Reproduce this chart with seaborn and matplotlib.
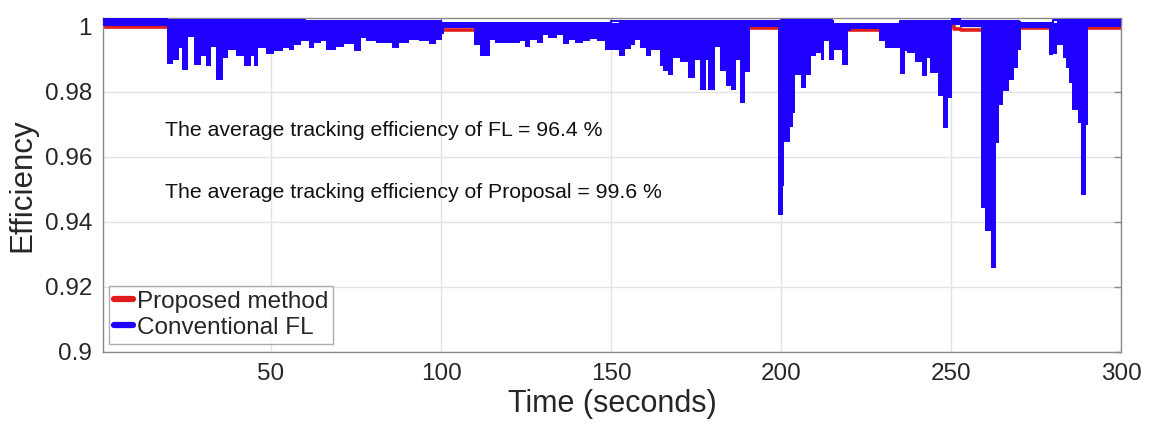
"""Tracking efficiency: proposed method vs conventional FL."""

import matplotlib
import matplotlib.pyplot as plt
import numpy as np
import pandas as pd
import seaborn as sns

matplotlib.use("Agg")

# Conventional FL: lower envelope of the (fast oscillating) efficiency,
# each value holds from its start time to the next one.
fl_t = [0.5, 19.5, 21.1, 22.8, 23.9, 25.7, 27.3, 29.3, 30.9, 32.4,
        33.9, 35.8, 37.3, 39.7, 42.2, 44.1, 45.0, 46.1, 48.5, 51.0,
        53.4, 55.4, 56.9, 58.8, 61.3, 62.7, 64.7, 66.1, 69.0, 71.5,
        74.4, 76.4, 77.8, 80.8, 85.7, 87.6, 90.6, 93.5, 96.4, 98.4,
        100.4, 101.0, 109.7, 111.6, 114.5, 116.0, 118.9, 123.3, 124.8, 126.2,
        128.2, 130.1, 131.6, 134.0, 136.0, 137.5, 139.4, 141.9, 143.8, 145.8,
        148.2, 152.2, 154.1, 156.0, 157.0, 158.4, 160.4, 161.9, 164.3, 165.3,
        166.8, 168.2, 170.2, 172.6, 174.6, 176.1, 178.0, 178.5, 180.5, 182.0,
        183.9, 185.4, 186.9, 187.9, 189.3, 190.8, 199.1, 200.5, 201.0, 202.5,
        203.5, 204.2, 205.9, 207.3, 208.8, 210.2, 211.7, 212.7, 214.1, 215.5,
        218.0, 219.8, 220.7, 228.7, 230.7, 235.0, 236.5, 237.0, 239.4, 241.4,
        242.8, 243.8, 246.3, 247.7, 249.2, 250.4, 252.5, 258.8, 260.1, 261.7,
        263.2, 264.0, 265.2, 266.9, 268.6, 269.6, 270.6, 278.9, 279.9, 281.3,
        282.8, 283.8, 284.8, 285.7, 287.2, 288.2, 289.6, 290.4, 300.0]
fl_low = [1.0003, 0.9885, 0.9898, 0.9934, 0.9868, 0.9967, 0.9883, 0.9909, 0.9878, 0.9939,
          0.9837, 0.9903, 0.9929, 0.9909, 0.9878, 0.9909, 0.9878, 0.9934, 0.9916, 0.9926,
          0.9934, 0.9929, 0.9944, 0.9955, 0.9934, 0.9949, 0.9957, 0.9929, 0.9939, 0.9946,
          0.9926, 0.9965, 0.9957, 0.9949, 0.9936, 0.9949, 0.9960, 0.9955, 0.9946, 0.9960,
          0.9977, 0.9996, 0.9944, 0.9909, 0.9960, 0.9951, 0.9949, 0.9957, 0.9939, 0.9960,
          0.9951, 0.9975, 0.9965, 0.9975, 0.9947, 0.9960, 0.9951, 0.9957, 0.9962, 0.9957,
          0.9929, 0.9911, 0.9931, 0.9944, 0.9960, 0.9934, 0.9909, 0.9929, 0.9878, 0.9863,
          0.9852, 0.9903, 0.9893, 0.9842, 0.9898, 0.9804, 0.9898, 0.9805, 0.9939, 0.9863,
          0.9817, 0.9805, 0.9898, 0.9766, 0.9860, 0.9999, 0.9422, 0.9509, 0.9647, 0.9693,
          0.9734, 0.9852, 0.9811, 0.9852, 0.9909, 0.9919, 0.9898, 0.9955, 0.9898, 0.9929,
          0.9883, 0.9986, 0.9994, 0.9955, 0.9934, 0.9854, 0.9924, 0.9919, 0.9893, 0.9850,
          0.9904, 0.9858, 0.9786, 0.9688, 0.9781, 1.0005, 0.9999, 0.9443, 0.9372, 0.9258,
          0.9643, 0.9760, 0.9801, 0.9837, 0.9873, 0.9929, 0.9996, 0.9914, 0.9916, 0.9945,
          0.9904, 0.9873, 0.9827, 0.9745, 0.9704, 0.9483, 0.9698, 1.0000, 1.0000]

# Conventional FL: upper envelope
fl_top_t = [0.5, 19.5, 60.0, 100.0, 110.0, 150.0, 200.0, 215.0, 235.0, 250.4,
            252.5, 270.0, 280.0, 300.0]
fl_top = [1.0025, 1.0022, 1.0017, 1.0011, 1.0012, 1.0017, 1.0022, 1.0009, 1.0018, 1.0028,
          1.0017, 1.0012, 1.0022, 1.0022]

# Proposed method
prop_t = [0.5, 60.0, 150.0, 205.0, 240.0, 251.0, 253.0, 262.0, 285.0, 300.0]
prop_eff = [0.9999, 0.9989, 0.9995, 0.9989, 1.0001, 0.9994, 0.9991, 0.9996, 0.9996, 0.9996]

avg_fl = 96.4
avg_prop = 99.6

BLUE = "#1f00ff"
RED = "#e01b1b"

sns.set_style("white")
plt.rcParams["font.family"] = ["Liberation Sans", "DejaVu Sans"]

fig = plt.figure(figsize=(11.51, 4.36), dpi=100)
ax = fig.add_axes([0.0895, 0.193, 0.8845, 0.765])

prop_df = pd.DataFrame({"Time": prop_t, "Efficiency": prop_eff})
sns.lineplot(data=prop_df, x="Time", y="Efficiency", ax=ax, color=RED,
             linewidth=2.6, drawstyle="steps-post", label="Proposed method", zorder=2)

# upper edge looked up on the same step grid as the lower envelope
fl_t_arr = np.array(fl_t)
idx = np.searchsorted(fl_top_t, fl_t_arr, side="right") - 1
fl_high = np.array(fl_top)[np.clip(idx, 0, len(fl_top) - 1)]
ax.fill_between(fl_t_arr, fl_low, fl_high, step="post", color=BLUE, linewidth=0, zorder=3)

top_df = pd.DataFrame({"Time": fl_top_t, "Efficiency": fl_top})
sns.lineplot(data=top_df, x="Time", y="Efficiency", ax=ax, color=BLUE,
             linewidth=1.5, drawstyle="steps-post", label="Conventional FL", zorder=3)

ax.text(18.9, 0.968, f"The average tracking efficiency of FL = {avg_fl} %",
        fontsize=15.3, va="center", ha="left", color="#111111")
ax.text(18.9, 0.9489, f"The average tracking efficiency of Proposal = {avg_prop} %",
        fontsize=15.3, va="center", ha="left", color="#111111")

ax.set_xlim(0.6, 300)
ax.set_ylim(0.9, 1.0026)
ax.set_xticks([50, 100, 150, 200, 250, 300])
ax.set_yticks([0.9, 0.92, 0.94, 0.96, 0.98, 1.0])
ax.set_yticklabels(["0.9", "0.92", "0.94", "0.96", "0.98", "1"])
ax.grid(True, color="#e3e3e3", linewidth=1)
ax.set_axisbelow(True)
ax.tick_params(direction="in", length=5, width=1, color="#8a8a8a",
               labelsize=17.5, labelcolor="#262626", top=True, right=True, pad=8)
for s in ax.spines.values():
    s.set_color("#8a8a8a")
    s.set_linewidth(1)

ax.set_xlabel("Time (seconds)", fontsize=22, color="#262626", labelpad=3)
ax.set_ylabel("Efficiency", fontsize=22.5, color="#262626", labelpad=5)

leg = ax.legend(loc="lower left", bbox_to_anchor=(0.006, 0.025), borderaxespad=0,
                fontsize=17.5, frameon=True, fancybox=False, edgecolor="#999999",
                handlelength=0.8, handletextpad=0.15, borderpad=0.2, labelspacing=0.15)
leg.get_frame().set_linewidth(1)
for h in leg.get_lines():
    h.set_linewidth(4.5)

fig.savefig("out.png", dpi=100, facecolor="white")
plt.close(fig)
